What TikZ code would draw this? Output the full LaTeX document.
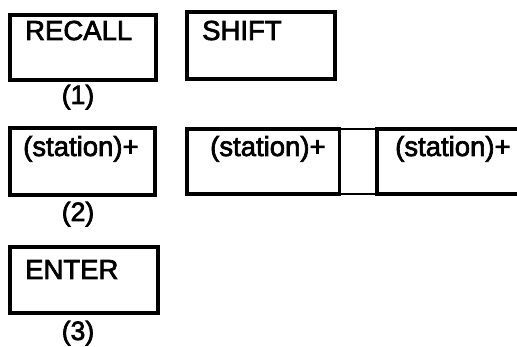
\documentclass[tikz,border=0pt]{standalone}
\usepackage{fontspec}
\setmainfont{Liberation Sans}
\newfontfamily\keyfont[FakeBold=2.5]{Liberation Sans}
\begin{document}
\begin{tikzpicture}[x=1pt,y=-1pt,
  keybox/.style={draw=black,line width=3.8pt,line join=miter},
  thinedge/.style={draw=black,line width=1.6pt},
  keytext/.style={anchor=base west,inner sep=0pt,font=\keyfont\fontsize{27.5}{30}\selectfont},
  steplabel/.style={anchor=base,inner sep=0pt,font=\keyfont\fontsize{26.5}{29}\selectfont}]
\useasboundingbox (0,0) rectangle (517,347);
\clip (0,0) rectangle (517,347);
\fill[white] (0,0) rectangle (517,347);

% step (1): RECALL and SHIFT keys
\draw[keybox] (10,15) rectangle (156,80);
\node[keytext] (recall) at (25,40) {RECALL};
\draw[keybox] (187,12) rectangle (335,79);
\node[keytext] (shift) at (202,40) {SHIFT};
\node[steplabel] (s1) at (78,104) {(1)};

% step (2): station keys
\draw[keybox] (10,128) rectangle (155,195);
\node[keytext] (st1) at (23,156) {(station)+};
\draw[keybox] (187,129) -- (187,194) -- (339.5,194) -- (339.5,129) -- cycle;
\node[keytext] (st2) at (210,156) {(station)+};
\draw[thinedge] (339.5,129) -- (377,129);
\draw[thinedge] (339.5,194) -- (377,194);
\draw[keybox] (530,129) -- (377,129) -- (377,194) -- (530,194);
\node[keytext] (st3) at (395,156) {(station)+};
\node[steplabel] (s2) at (78,221) {(2)};

% step (3): ENTER key
\draw[keybox] (10,247) rectangle (158,313);
\node[keytext] (enter) at (25,279) {ENTER};
\node[steplabel] (s3) at (78,340) {(3)};
\end{tikzpicture}
\end{document}
